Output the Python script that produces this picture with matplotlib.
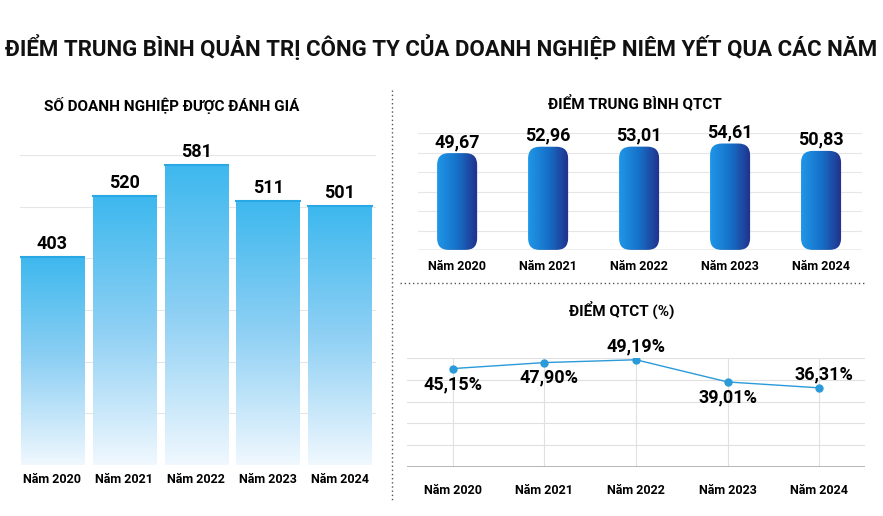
import matplotlib
matplotlib.use("Agg")
import matplotlib.pyplot as plt
import numpy as np
from matplotlib.patches import FancyBboxPatch, Rectangle

plt.rcParams["font.family"] = ["Roboto", "DejaVu Sans"]

years = ["Năm 2020", "Năm 2021", "Năm 2022", "Năm 2023", "Năm 2024"]
so_dn = [403, 520, 581, 511, 501]
diem_tb = [49.67, 52.96, 53.01, 54.61, 50.83]
diem_pct = [45.15, 47.90, 49.19, 39.01, 36.31]
pct_labels = ["45,15%", "47,90%", "49,19%", "39,01%", "36,31%"]

W, H = 883, 516
fig = plt.figure(figsize=(W / 100, H / 100), dpi=100)


def axes_px(x0, y0, x1, y1):
    return fig.add_axes([x0 / W, 1 - y1 / H, (x1 - x0) / W, (y1 - y0) / H])


def clean(ax):
    for s in ax.spines.values():
        s.set_visible(False)
    ax.tick_params(length=0, labelsize=9)
    ax.set_yticks([])
    for lab in ax.get_xticklabels():
        lab.set_fontweight("bold")


fig.text(0.5, 1 - 48 / H, "ĐIỂM TRUNG BÌNH QUẢN TRỊ CÔNG TY CỦA DOANH NGHIỆP NIÊM YẾT QUA CÁC NĂM",
         ha="center", va="center", fontsize=16, fontweight="bold", color="#111111")

# left: number of companies
ax1 = axes_px(20, 155, 376, 465)
x = np.arange(len(years))
for g in range(100, 601, 100):
    ax1.axhline(g, color="#e6e6e6", lw=0.8, zorder=0)
grad = np.linspace(0, 1, 256).reshape(-1, 1)
cmap1 = matplotlib.colors.LinearSegmentedColormap.from_list("b1", ["#f0f8fe", "#8fd0f4", "#3db8ee"])
for xi, v in zip(x, so_dn):
    r = Rectangle((xi - 0.44, 0), 0.88, v, fc="none", ec="none")
    ax1.add_patch(r)
    im = ax1.imshow(grad, cmap=cmap1, aspect="auto", extent=(xi - 0.44, xi + 0.44, 0, v),
                    origin="lower", zorder=1)
    im.set_clip_path(r)
    ax1.plot([xi - 0.44, xi + 0.44], [v, v], color="#2aa8e6", lw=1.5, zorder=2)
    ax1.text(xi, v + 8, str(v), ha="center", va="bottom", fontsize=13, fontweight="bold")
ax1.set_xticks(x, years)
clean(ax1)
ax1.tick_params(pad=6)
ax1.set_xlim(-0.45, 4.5)
ax1.set_ylim(0, 600)
fig.text(172 / W, 1 - 105 / H, "SỐ DOANH NGHIỆP ĐƯỢC ĐÁNH GIÁ", ha="center", va="center",
         fontsize=11, fontweight="bold")

# dividers
fig.add_artist(plt.Line2D([392 / W, 392 / W], [1 - 90 / H, 1 - 500 / H], color="#555555",
                          lw=1, ls=(0, (1, 2))))
fig.add_artist(plt.Line2D([400 / W, 866 / W], [1 - 283 / H, 1 - 283 / H], color="#555555",
                          lw=1, ls=(0, (1, 2))))

# top right: average score
ax2 = axes_px(418, 133, 862, 250)
for g in range(10, 61, 10):
    ax2.axhline(g, color="#e6e6e6", lw=0.8, zorder=0)
ax2.axhline(0, color="#aaaaaa", lw=1, zorder=3)
hgrad = np.linspace(0, 1, 256).reshape(1, -1)
cmap2 = matplotlib.colors.LinearSegmentedColormap.from_list("b2", ["#1f97e8", "#1670c8", "#22308a"])
bw = 0.44
for xi, v in zip(x, diem_tb):
    p = FancyBboxPatch((xi - bw / 2, 0), bw, v, boxstyle="round,pad=0,rounding_size=0.13",
                       mutation_aspect=46, fc="none", ec="none")
    ax2.add_patch(p)
    im = ax2.imshow(hgrad, cmap=cmap2, aspect="auto", extent=(xi - bw / 2, xi + bw / 2, 0, v),
                    zorder=1)
    im.set_clip_path(p)
    ax2.text(xi, v + 1, f"{v:.2f}".replace(".", ","), ha="center", va="bottom",
             fontsize=13, fontweight="bold")
ax2.set_xticks(x, years)
clean(ax2)
ax2.tick_params(pad=7)
ax2.set_xlim(-0.43, 4.45)
ax2.set_ylim(0, 60)
fig.text(635 / W, 1 - 103 / H, "ĐIỂM TRUNG BÌNH QTCT", ha="center", va="center",
         fontsize=11, fontweight="bold")

# bottom right: percentage
ax3 = axes_px(407, 358, 865, 467)
for g in range(10, 51, 10):
    ax3.axhline(g, color="#e0e0e0", lw=0.8, zorder=0)
for xi in x:
    ax3.axvline(xi, color="#e0e0e0", lw=0.8, zorder=0)
ax3.axhline(0, color="#aaaaaa", lw=1.2, zorder=3)
ax3.plot(x, diem_pct, color="#2a9ad8", lw=1, marker="o", ms=5, zorder=4)
offsets = [(0, -3, "top"), (0.05, -2.5, "top"), (0, 2, "bottom"), (0, -3, "top"), (0.05, 2, "bottom")]
for xi, v, lab, (dx, dy, va) in zip(x, diem_pct, pct_labels, offsets):
    ax3.text(xi + dx, v + dy, lab, ha="center", va=va, fontsize=13, fontweight="bold", zorder=5)
ax3.set_xticks(x, years)
clean(ax3)
ax3.tick_params(pad=12)
ax3.set_xlim(-0.5, 4.5)
ax3.set_ylim(0, 50)
fig.text(622 / W, 1 - 310 / H, "ĐIỂM QTCT (%)", ha="center", va="center",
         fontsize=11, fontweight="bold")

fig.savefig("out.png", dpi=100)
